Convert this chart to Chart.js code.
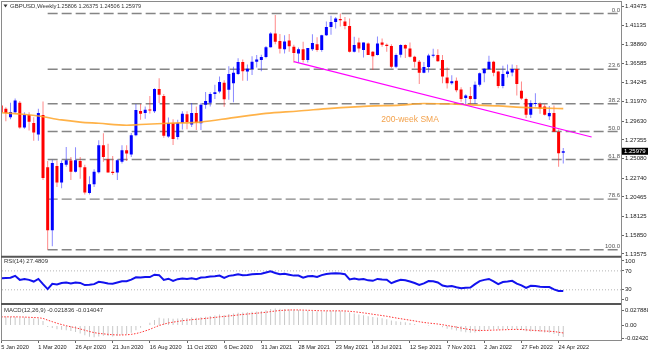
<!DOCTYPE html>
<html lang="en">
<head>
<meta charset="UTF-8">
<title>GBPUSD Weekly</title>
<script src="https://cdn.jsdelivr.net/npm/chart.js"></script>
<style>
  html, body { margin: 0; padding: 0; background: #fff; }
  #wrap { width: 648px; height: 354px; }
</style>
</head>
<body>
<div id="wrap"><canvas id="fx" width="648" height="354"></canvas></div>

<script>
// weekly bars, index 0 = week of 5 Jan 2020, index 121 = week of 1 May 2022
const openPx = [1.3150,1.3110,1.3010,1.3070,1.3185,1.2885,1.3035,1.2940,1.2800,1.3035,
  1.2405,1.1645,1.2420,1.2220,1.2435,1.2485,1.2350,1.2480,1.2405,1.2095,
  1.2200,1.2345,1.2670,1.2500,1.2350,1.2340,1.2470,1.2610,1.2560,1.2790,
  1.3085,1.3060,1.3100,1.3080,1.3350,1.3265,1.2775,1.2940,1.2770,1.2940,
  1.3045,1.2920,1.3060,1.2935,1.3160,1.3185,1.3290,1.3320,1.3425,1.3340,
  1.3420,1.3530,1.3675,1.3560,1.3590,1.3680,1.3700,1.3735,1.3855,1.4020,
  1.3930,1.3830,1.3935,1.3860,1.3780,1.3830,1.3700,1.3830,1.3890,1.3820,
  1.4000,1.4100,1.4160,1.4195,1.4165,1.4110,1.3800,1.3910,1.3820,1.3900,
  1.3800,1.3760,1.3910,1.3885,1.3870,1.3620,1.3765,1.3880,1.3840,1.3740,
  1.3680,1.3545,1.3615,1.3750,1.3760,1.3700,1.3490,1.3420,1.3450,1.3345,
  1.3240,1.3265,1.3230,1.3400,1.3540,1.3590,1.3680,1.3560,1.3385,1.3530,
  1.3550,1.3590,1.3330,1.3230,1.3040,1.3170,1.3170,1.3140,1.3020,1.3060,
  1.2830,1.25806];
const highPx = [1.3215,1.3130,1.3185,1.3235,1.3205,1.3070,1.3070,1.3010,1.3110,1.3200,
  1.2480,1.2495,1.2485,1.2485,1.2650,1.2530,1.2645,1.2530,1.2435,1.2295,
  1.2380,1.2730,1.2815,1.2690,1.2540,1.2505,1.2670,1.2670,1.2820,1.3170,
  1.3170,1.3140,1.3265,1.3360,1.3480,1.3290,1.3005,1.2985,1.2980,1.3080,
  1.3080,1.3180,1.3140,1.3180,1.3315,1.3310,1.3400,1.3500,1.3455,1.3625,
  1.3620,1.3720,1.3705,1.3645,1.3745,1.3760,1.3765,1.3870,1.4035,1.4243,
  1.4015,1.4000,1.4015,1.3885,1.3850,1.3920,1.3845,1.4010,1.3975,1.4005,
  1.4165,1.4235,1.4220,1.4262,1.4220,1.4200,1.3980,1.3970,1.3910,1.3910,
  1.3810,1.3985,1.3960,1.3900,1.3890,1.3780,1.3890,1.3890,1.3910,1.3750,
  1.3700,1.3675,1.3775,1.3835,1.3830,1.3760,1.3610,1.3515,1.3490,1.3370,
  1.3285,1.3375,1.3440,1.3550,1.3600,1.3750,1.3690,1.3570,1.3630,1.3645,
  1.3645,1.3640,1.3440,1.3245,1.3215,1.3300,1.3190,1.3165,1.3145,1.3150,
  1.2860,1.26375];
const lowPx = [1.3010,1.2960,1.2985,1.3050,1.2870,1.2870,1.2850,1.2725,1.2725,1.2250,
  1.1410,1.1450,1.2165,1.2150,1.2410,1.2250,1.2340,1.2265,1.2075,1.2075,
  1.2165,1.2330,1.2470,1.2340,1.2310,1.2250,1.2450,1.2480,1.2530,1.2780,
  1.2980,1.2990,1.3055,1.3060,1.3180,1.2760,1.2760,1.2675,1.2740,1.2860,
  1.2865,1.2890,1.2855,1.2855,1.3110,1.3140,1.3230,1.3300,1.3135,1.3220,
  1.3190,1.3520,1.3450,1.3450,1.3520,1.3610,1.3565,1.3720,1.3850,1.3890,
  1.3780,1.3780,1.3800,1.3670,1.3670,1.3670,1.3670,1.3810,1.3800,1.3800,
  1.3990,1.4005,1.4080,1.4105,1.4070,1.3790,1.3790,1.3790,1.3730,1.3760,
  1.3580,1.3755,1.3860,1.3800,1.3600,1.3600,1.3730,1.3725,1.3730,1.3610,
  1.3410,1.3540,1.3550,1.3730,1.3680,1.3420,1.3355,1.3400,1.3310,1.3195,
  1.3160,1.3160,1.3170,1.3380,1.3430,1.3580,1.3505,1.3360,1.3360,1.3490,
  1.3505,1.3270,1.3220,1.3000,1.3000,1.3140,1.3050,1.3030,1.2975,1.2830,
  1.2410,1.24506];
const closePx = [1.3070,1.3060,1.3072,1.3210,1.2885,1.3035,1.2955,1.2825,1.3060,1.2275,
  1.1645,1.2455,1.2220,1.2455,1.2490,1.2350,1.2490,1.2405,1.2100,1.2200,
  1.2350,1.2670,1.2530,1.2340,1.2335,1.2490,1.2610,1.2570,1.2790,1.3095,
  1.3050,1.3100,1.3090,1.3350,1.3280,1.2785,1.2940,1.2745,1.2940,1.3050,
  1.2950,1.3060,1.2945,1.3160,1.3205,1.3290,1.3310,1.3435,1.3225,1.3530,
  1.3545,1.3675,1.3565,1.3595,1.3680,1.3705,1.3735,1.3855,1.4020,1.3920,
  1.3835,1.3925,1.3865,1.3785,1.3830,1.3700,1.3845,1.3905,1.3820,1.4000,
  1.4100,1.4160,1.4200,1.4180,1.4110,1.3800,1.3880,1.3840,1.3910,1.3760,
  1.3745,1.3900,1.3885,1.3870,1.3620,1.3760,1.3880,1.3840,1.3740,1.3680,
  1.3545,1.3615,1.3755,1.3765,1.3685,1.3500,1.3420,1.3445,1.3335,1.3230,
  1.3270,1.3230,1.3400,1.3540,1.3595,1.3680,1.3545,1.3385,1.3530,1.3560,
  1.3590,1.3410,1.3235,1.3040,1.3180,1.3180,1.3115,1.3040,1.3060,1.2835,
  1.2573,1.25979];

const rsi14 = [54.6,55.0,55.5,59.5,51.0,53.0,51.0,47.5,53.0,42.0,
  31.5,42.6,41.5,44.5,45.2,43.5,45.5,44.5,40.0,40.5,
  42.0,47.0,45.5,43.5,43.0,45.5,48.0,48.0,51.5,56.5,
  56.0,57.0,57.0,62.0,61.0,51.0,53.5,49.0,52.5,54.0,
  53.0,54.5,52.5,56.0,56.5,58.0,58.5,60.0,55.0,59.5,
  61.0,63.0,61.0,61.5,63.0,63.5,64.0,66.5,69.0,65.5,
  63.0,64.0,62.0,60.0,60.0,55.5,58.5,59.0,57.0,61.0,
  63.5,64.5,65.0,64.5,63.0,52.0,54.0,52.0,53.0,50.0,
  49.0,53.0,52.0,51.5,44.0,48.0,51.0,50.0,47.5,44.5,
  40.5,43.5,48.5,48.0,45.5,39.0,37.0,38.0,35.5,33.5,
  34.5,35.0,42.0,48.5,51.0,53.0,48.0,42.0,46.5,47.5,
  49.0,43.0,39.5,34.0,38.5,38.0,36.5,36.0,35.8,31.0,
  27.5,27.4809];

const macdMain = [0.0170,0.0166,0.0162,0.0162,0.0152,0.0150,0.0142,0.0130,0.0130,0.0085,
  -0.0030,-0.0045,-0.0070,-0.0080,-0.0090,-0.0105,-0.0120,-0.0150,-0.0185,-0.0210,
  -0.0220,-0.0205,-0.0195,-0.0200,-0.0205,-0.0195,-0.0180,-0.0165,-0.0135,-0.0090,
  -0.0040,0.0010,0.0050,0.0105,0.0145,0.0130,0.0135,0.0125,0.0130,0.0140,
  0.0140,0.0150,0.0145,0.0155,0.0165,0.0180,0.0190,0.0205,0.0200,0.0215,
  0.0225,0.0240,0.0245,0.0250,0.0258,0.0265,0.0272,0.0288,0.0312,0.0318,
  0.0316,0.0312,0.0306,0.0296,0.0290,0.0280,0.0276,0.0272,0.0266,0.0266,
  0.0270,0.0274,0.0278,0.0276,0.0268,0.0245,0.0225,0.0205,0.0195,0.0175,
  0.0160,0.0150,0.0135,0.0120,0.0095,0.0080,0.0070,0.0060,0.0045,0.0030,
  0.0010,0.0000,0.0002,0.0000,-0.0010,-0.0035,-0.0060,-0.0075,-0.0095,-0.0115,
  -0.0125,-0.0135,-0.0130,-0.0115,-0.0095,-0.0075,-0.0070,-0.0075,-0.0070,-0.0065,
  -0.0060,-0.0070,-0.0085,-0.0110,-0.0115,-0.0115,-0.0120,-0.0130,-0.0135,-0.0160,
  -0.0200,-0.021836];
const macdSignal = [0.0162,0.0163,0.0163,0.0163,0.0161,0.0159,0.0155,0.0150,0.0146,0.0134,
  0.0101,0.0072,0.0043,0.0018,-0.0004,-0.0024,-0.0043,-0.0065,-0.0089,-0.0113,
  -0.0134,-0.0148,-0.0157,-0.0166,-0.0174,-0.0178,-0.0178,-0.0175,-0.0167,-0.0152,
  -0.0130,-0.0102,-0.0072,-0.0036,0.0000,0.0026,0.0048,0.0063,0.0077,0.0090,
  0.0100,0.0110,0.0117,0.0125,0.0133,0.0143,0.0152,0.0163,0.0170,0.0179,
  0.0188,0.0199,0.0208,0.0216,0.0224,0.0232,0.0240,0.0249,0.0262,0.0273,
  0.0282,0.0288,0.0292,0.0293,0.0293,0.0290,0.0287,0.0284,0.0280,0.0277,
  0.0276,0.0276,0.0276,0.0276,0.0274,0.0268,0.0260,0.0249,0.0238,0.0226,
  0.0212,0.0200,0.0187,0.0174,0.0158,0.0142,0.0128,0.0114,0.0100,0.0086,
  0.0071,0.0057,0.0046,0.0037,0.0028,0.0015,0.0000,-0.0015,-0.0031,-0.0048,
  -0.0063,-0.0078,-0.0088,-0.0093,-0.0094,-0.0090,-0.0086,-0.0084,-0.0081,-0.0078,
  -0.0074,-0.0073,-0.0075,-0.0082,-0.0089,-0.0094,-0.0099,-0.0104,-0.0108,-0.0114,
  -0.0127,-0.014047];

// 200-week SMA at a few weeks
const smaWeek  = [0, 4, 8, 13, 17, 21, 27, 30, 36, 43, 50, 57, 64, 71, 79, 86, 91, 97, 101, 107, 112, 117, 121];
const smaValue = [1.3064,1.3048,1.3024,1.2976,1.2951,1.2936,1.2912,1.2921,1.2936,1.2951,1.3005,1.3056,
  1.3084,1.3117,1.3144,1.3156,1.3175,1.3169,1.3157,1.3145,1.3129,1.3120,1.3112];

// falling trend line from the March 2021 low
const trendWeek  = [63, 127.1];
const trendPrice = [1.3680, 1.2770];

// Fibonacci retracement of the 1.1409 - 1.4262 move
const fibLevels = [1.4262, 1.3589, 1.3172, 1.2836, 1.2499, 1.2020, 1.1409];
const fibLabels = ['0.0', '23.6', '38.2', '50.0', '61.8', '78.6', '100.0'];
const fibStartWeek = 10;

const priceTicks = [1.43475,1.41135,1.38860,1.36585,1.34245,1.31970,1.29630,1.27355,1.25080,1.22740,1.20465,1.18125,1.15850,1.13575];
const dateTickWeeks  = [0, 8, 16, 24, 32, 40, 48, 56, 64, 72, 80, 88, 96, 104, 112, 120];
const dateTickLabels = ['5 Jan 2020','1 Mar 2020','26 Apr 2020','21 Jun 2020','16 Aug 2020','11 Oct 2020','6 Dec 2020',
  '31 Jan 2021','28 Mar 2021','23 May 2021','18 Jul 2021','12 Sep 2021','7 Nov 2021','2 Jan 2022','27 Feb 2022','24 Apr 2022'];
// MT4 pulls the 100 / 0 labels inside the pane
const rsiTickAt = [91, 70, 30, 9];
const rsiTickLabels = ['100', '70', '30', '0'];
const macdTicks = [0.027888, 0, -0.024204];
const macdTickLabels = ['0.027888', '0.00', '-0.024204'];

const N = closePx.length;
const weeks = closePx.map((_, i) => i);
const xMin = 0.17, xMax = 133.43;
const isUp = weeks.map(i => closePx[i] >= openPx[i]);

const FONT = '"Liberation Sans", Arial, sans-serif';
const tickFont = { family: FONT, size: 6 };

function paneAxis(weight, min, max, tickVals, labelFn) {
  return {
    type: 'linear', position: 'right', stack: 'panes', stackWeight: weight,
    min: min, max: max, offset: false,
    border: { display: false },
    grid: { drawOnChartArea: false, tickLength: 3, color: '#666' },
    ticks: { font: tickFont, color: '#222', padding: 1, autoSkip: false, callback: labelFn },
    afterBuildTicks: s => { s.ticks = tickVals.map(v => ({ value: v })); },
    afterFit: s => { s.width = 27; s.paddingTop = 0; s.paddingBottom = 0; }
  };
}

const overlay = {
  id: 'overlay',
  afterDatasetsDraw(chart) {
    const { ctx, chartArea: a, scales: s } = chart;
    ctx.save();
    // frame + pane separators
    ctx.strokeStyle = '#8a8a8a'; ctx.lineWidth = 1;
    ctx.strokeRect(a.left - 0.5, a.top - 0.5, a.right - a.left + 1, a.bottom - a.top + 1);
    ctx.strokeStyle = '#555'; ctx.lineWidth = 2;
    [s.y.bottom, s.yRsi.bottom].forEach(py => {
      ctx.beginPath(); ctx.moveTo(a.left - 1, py); ctx.lineTo(a.right, py); ctx.stroke();
    });

    // header
    ctx.fillStyle = '#333';
    ctx.beginPath(); ctx.moveTo(3.5, 4.5); ctx.lineTo(7.5, 4.5); ctx.lineTo(5.5, 7.5); ctx.closePath(); ctx.fill();
    ctx.textAlign = 'left'; ctx.textBaseline = 'middle';
    ctx.font = '6px ' + FONT;
    ctx.fillText('GBPUSD,Weekly', 10, 6);
    ctx.font = '5.5px ' + FONT;
    ctx.fillText([openPx[N-1], highPx[N-1], lowPx[N-1], closePx[N-1]].map(v => v.toFixed(5)).join(' '), 57, 6);
    ctx.font = '6px ' + FONT;
    ctx.fillText('RSI(14) ' + rsi14[N-1].toFixed(4), 4, s.yRsi.top + 5);
    ctx.fillText('MACD(12,26,9) ' + macdMain[N-1].toFixed(6) + ' ' + macdSignal[N-1].toFixed(6), 4, s.yMacd.top + 6.5);

    // fib level labels
    ctx.fillStyle = '#555'; ctx.textAlign = 'right'; ctx.textBaseline = 'bottom';
    fibLevels.forEach((lv, k) => ctx.fillText(fibLabels[k], a.right - 1, s.y.getPixelForValue(lv) - 0.5));

    // SMA caption
    ctx.fillStyle = '#f3a24c'; ctx.textAlign = 'left'; ctx.textBaseline = 'middle';
    ctx.font = '8.5px ' + FONT;
    ctx.fillText('200-week SMA', s.x.getPixelForValue(81.8), s.y.getPixelForValue(1.2976));

    // last price box
    const py = s.y.getPixelForValue(closePx[N-1]);
    ctx.fillStyle = '#000'; ctx.fillRect(a.right + 1, py - 3.5, 26, 7);
    ctx.fillStyle = '#fff'; ctx.font = '6px ' + FONT;
    ctx.fillText(closePx[N-1].toFixed(5), a.right + 3, py + 0.3);
    ctx.restore();
  }
};

const datasets = [
  {
    label: 'wick', order: 40, grouped: false, barThickness: 1, inflateAmount: 0,
    data: weeks.map(i => ({ x: i, y: [lowPx[i], highPx[i]] })),
    backgroundColor: isUp.map(u => u ? 'rgba(40,40,255,0.55)' : 'rgba(255,40,40,0.55)')
  },
  {
    label: 'body', order: 39, grouped: false, barThickness: 3, inflateAmount: 0, minBarLength: 1,
    data: weeks.map(i => ({ x: i, y: [openPx[i], closePx[i]] })),
    backgroundColor: isUp.map(u => u ? '#0000ff' : '#ff0000')
  },
  {
    label: 'macd', order: 12, grouped: false, barThickness: 1, inflateAmount: 0, yAxisID: 'yMacd',
    data: weeks.map(i => ({ x: i, y: macdMain[i] })),
    backgroundColor: '#c8c8c8'
  },
  {
    type: 'line', label: 'signal', order: 11, yAxisID: 'yMacd',
    data: weeks.map(i => ({ x: i, y: macdSignal[i] })),
    borderColor: '#ff3030', borderWidth: 1, borderDash: [1.5, 1.5], pointRadius: 0, tension: 0
  },
  {
    type: 'line', label: 'rsi', order: 10, yAxisID: 'yRsi',
    data: weeks.map(i => ({ x: i, y: rsi14[i] })),
    borderColor: '#1212ee', borderWidth: 2, pointRadius: 0, tension: 0
  },
  ...[70, 30].map(lv => ({
    type: 'line', label: 'rsi' + lv, order: 13, yAxisID: 'yRsi',
    data: [{ x: xMin, y: lv }, { x: xMax, y: lv }],
    borderColor: '#b4b4b4', borderWidth: 1, borderDash: [1, 2], pointRadius: 0
  })),
  ...fibLevels.map((lv, k) => ({
    type: 'line', label: 'fib ' + fibLabels[k], order: 50,
    data: [{ x: fibStartWeek, y: lv }, { x: xMax, y: lv }],
    borderColor: 'rgba(120,120,120,0.9)', borderWidth: 1.4, borderDash: [10, 4], pointRadius: 0
  })),
  {
    type: 'line', label: 'sma200', order: 30,
    data: smaWeek.map((w, k) => ({ x: w, y: smaValue[k] })),
    borderColor: 'rgba(255,165,40,0.85)', borderWidth: 1.7, pointRadius: 0, cubicInterpolationMode: 'monotone'
  },
  {
    type: 'line', label: 'trend', order: 20,
    data: trendWeek.map((w, k) => ({ x: w, y: trendPrice[k] })),
    borderColor: '#ff00ff', borderWidth: 1.2, pointRadius: 0
  }
];

new Chart(document.getElementById('fx'), {
  type: 'bar',
  data: { datasets: datasets },
  options: {
    responsive: false,
    animation: false,
    events: [],
    layout: { autoPadding: false, padding: { left: 2, top: 2, right: 0, bottom: 0 } },
    plugins: { legend: { display: false }, tooltip: { enabled: false } },
    scales: {
      x: {
        type: 'linear', position: 'bottom', min: xMin, max: xMax, offset: false,
        border: { display: false },
        grid: { offset: false, drawOnChartArea: false, tickLength: 3, color: '#666' },
        ticks: { font: { family: FONT, size: 5.6 }, color: '#222', padding: 1, align: 'start',
                 maxRotation: 0, autoSkip: false, callback: (v, i) => dateTickLabels[i] },
        afterBuildTicks: s => { s.ticks = dateTickWeeks.map(v => ({ value: v })); },
        afterFit: s => { s.height = 14; s.paddingLeft = 0; s.paddingRight = 0; }
      },
      y: paneAxis(254.7, 1.13246, 1.44006, priceTicks, v => v.toFixed(5)),
      yRsi: paneAxis(47.3, 0, 100, rsiTickAt, (v, i) => rsiTickLabels[i]),
      yMacd: paneAxis(36, -0.0273, 0.0405, macdTicks, (v, i) => macdTickLabels[i])
    }
  },
  plugins: [overlay]
});
</script>
</body>
</html>
